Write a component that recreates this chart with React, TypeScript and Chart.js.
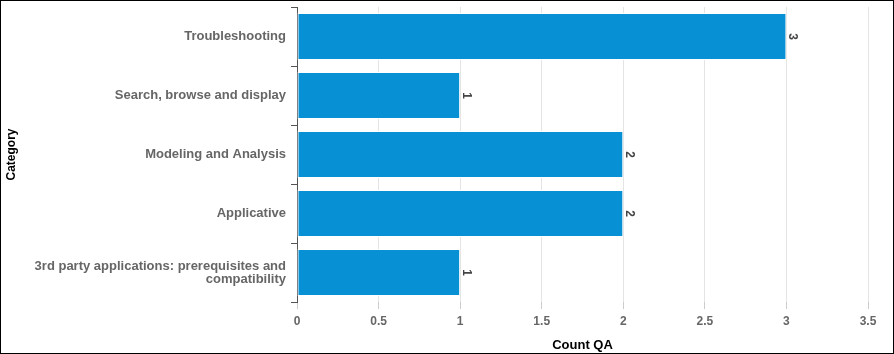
import React, { useEffect, useRef } from "react";
import { Chart, registerables } from "chart.js";

Chart.register(...registerables);

const categories: (string | string[])[] = [
  "Troubleshooting",
  "Search, browse and display",
  "Modeling and Analysis",
  "Applicative",
  ["3rd party applications: prerequisites and", "compatibility"],
];
const counts = [3, 1, 2, 2, 1];
const xTitle = "Count QA";
const yTitle = "Category";

const FONT = "'Liberation Sans', Arial, sans-serif";

const valueLabels = {
  id: "valueLabels",
  afterDatasetsDraw(chart: any) {
    const ctx = chart.ctx;
    const meta = chart.getDatasetMeta(0);
    ctx.save();
    ctx.font = `bold 12px ${FONT}`;
    ctx.fillStyle = "#444444";
    ctx.textAlign = "center";
    ctx.textBaseline = "middle";
    meta.data.forEach((bar: any, i: number) => {
      ctx.save();
      ctx.translate(bar.x + 6, bar.y);
      ctx.rotate(Math.PI / 2);
      ctx.fillText(String(counts[i]), 0, 0);
      ctx.restore();
    });
    ctx.restore();
  },
};

export default function App() {
  const ref = useRef<HTMLCanvasElement>(null);
  useEffect(() => {
    document.body.style.margin = "0";
    const chart = new Chart(ref.current!, {
      type: "bar",
      data: {
        labels: categories,
        datasets: [
          {
            data: counts,
            backgroundColor: "#0890d5",
            borderColor: "#ffffff",
            borderWidth: 1,
            borderSkipped: false,
            barPercentage: 0.8,
            categoryPercentage: 1,
          },
        ],
      },
      options: {
        indexAxis: "y",
        animation: false,
        responsive: false,
        maintainAspectRatio: false,
        layout: { padding: { top: 6, right: 25, left: 0, bottom: 0 } },
        plugins: {
          legend: { display: false },
          tooltip: { enabled: false },
        },
        scales: {
          x: {
            min: 0,
            max: 3.5,
            ticks: {
              stepSize: 0.5,
              color: "#666666",
              font: { family: FONT, size: 12, weight: "bold" },
              padding: 5,
              callback: (v: any) => String(Number(v)),
            },
            grid: {
              color: "#e4e4e4",
              tickColor: "#cccccc",
              tickLength: 7,
            },
            border: { display: false },
            title: {
              display: true,
              text: xTitle,
              color: "#000000",
              font: { family: FONT, size: 13, weight: "bold" },
              padding: { top: 3, bottom: 0 },
            },
            afterFit(scale: any) {
              scale.height = 51;
            },
          },
          y: {
            offset: true,
            ticks: {
              color: "#666666",
              font: { family: FONT, size: 13, weight: "bold", lineHeight: 1 },
              padding: 5,
            },
            grid: {
              offset: true,
              drawOnChartArea: false,
              color: "#555555",
              tickLength: 6,
            },
            border: { display: true, color: "#555555", width: 1 },
            title: {
              display: true,
              text: yTitle,
              color: "#000000",
              font: { family: FONT, size: 12, weight: "bold" },
              padding: { top: 3, bottom: 0 },
            },
            afterFit(scale: any) {
              scale.width = 296;
              scale.paddingTop = 0;
              scale.paddingBottom = 0;
            },
          },
        },
      },
      plugins: [valueLabels],
    });
    return () => chart.destroy();
  }, []);
  return (
    <div
      style={{
        width: 894,
        height: 354,
        border: "1px solid #000",
        boxSizing: "border-box",
        background: "#fff",
      }}
    >
      <canvas ref={ref} width={892} height={352} style={{ display: "block" }} />
    </div>
  );
}
